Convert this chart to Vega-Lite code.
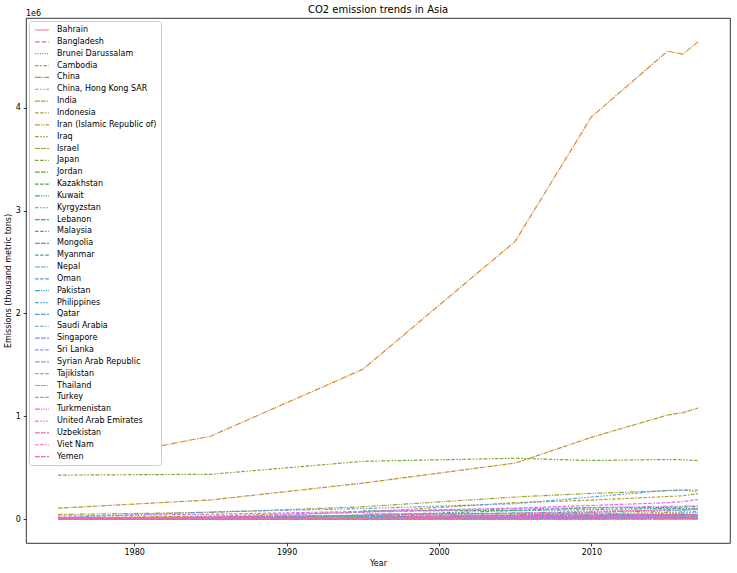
{
"$schema": "https://vega.github.io/schema/vega-lite/v6.json",
"width": 704,
"height": 525,
"padding": {"left": 4, "top": 5, "right": 4, "bottom": 3},
"title": {"text": "CO2 emission trends in Asia", "fontSize": 10, "fontWeight": "normal", "font": "DejaVu Sans", "color": "black", "offset": -5.2},
"datasets": {
"emis": [
{"Country":"Bahrain","Year":1975,"Emissions":2500},{"Country":"Bahrain","Year":1985,"Emissions":4000},{"Country":"Bahrain","Year":1995,"Emissions":5500},{"Country":"Bahrain","Year":2005,"Emissions":9500},{"Country":"Bahrain","Year":2010,"Emissions":12000},{"Country":"Bahrain","Year":2015,"Emissions":15000},{"Country":"Bahrain","Year":2016,"Emissions":15500},{"Country":"Bahrain","Year":2017,"Emissions":16000},
{"Country":"Bangladesh","Year":1975,"Emissions":2000},{"Country":"Bangladesh","Year":1985,"Emissions":3500},{"Country":"Bangladesh","Year":1995,"Emissions":8000},{"Country":"Bangladesh","Year":2005,"Emissions":17500},{"Country":"Bangladesh","Year":2010,"Emissions":27000},{"Country":"Bangladesh","Year":2015,"Emissions":36500},{"Country":"Bangladesh","Year":2016,"Emissions":36000},{"Country":"Bangladesh","Year":2017,"Emissions":36500},
{"Country":"Brunei Darussalam","Year":1975,"Emissions":1750},{"Country":"Brunei Darussalam","Year":1985,"Emissions":2000},{"Country":"Brunei Darussalam","Year":1995,"Emissions":2500},{"Country":"Brunei Darussalam","Year":2005,"Emissions":2750},{"Country":"Brunei Darussalam","Year":2010,"Emissions":3500},{"Country":"Brunei Darussalam","Year":2015,"Emissions":3000},{"Country":"Brunei Darussalam","Year":2016,"Emissions":3200},{"Country":"Brunei Darussalam","Year":2017,"Emissions":3300},
{"Country":"Cambodia","Year":1995,"Emissions":750},{"Country":"Cambodia","Year":2005,"Emissions":1500},{"Country":"Cambodia","Year":2010,"Emissions":2250},{"Country":"Cambodia","Year":2015,"Emissions":3750},{"Country":"Cambodia","Year":2016,"Emissions":4150},{"Country":"Cambodia","Year":2017,"Emissions":4750},
{"Country":"China","Year":1975,"Emissions":520000},{"Country":"China","Year":1985,"Emissions":806000},{"Country":"China","Year":1995,"Emissions":1456000},{"Country":"China","Year":2005,"Emissions":2700000},{"Country":"China","Year":2010,"Emissions":3910000},{"Country":"China","Year":2015,"Emissions":4550000},{"Country":"China","Year":2016,"Emissions":4520000},{"Country":"China","Year":2017,"Emissions":4640000},
{"Country":"China, Hong Kong SAR","Year":1975,"Emissions":4500},{"Country":"China, Hong Kong SAR","Year":1985,"Emissions":8500},{"Country":"China, Hong Kong SAR","Year":1995,"Emissions":15500},{"Country":"China, Hong Kong SAR","Year":2005,"Emissions":20000},{"Country":"China, Hong Kong SAR","Year":2010,"Emissions":21000},{"Country":"China, Hong Kong SAR","Year":2015,"Emissions":22000},{"Country":"China, Hong Kong SAR","Year":2016,"Emissions":21500},{"Country":"China, Hong Kong SAR","Year":2017,"Emissions":22000},
{"Country":"India","Year":1975,"Emissions":107000},{"Country":"India","Year":1985,"Emissions":186000},{"Country":"India","Year":1995,"Emissions":350000},{"Country":"India","Year":2005,"Emissions":545000},{"Country":"India","Year":2010,"Emissions":795000},{"Country":"India","Year":2015,"Emissions":1012000},{"Country":"India","Year":2016,"Emissions":1035000},{"Country":"India","Year":2017,"Emissions":1080000},
{"Country":"Indonesia","Year":1975,"Emissions":12500},{"Country":"Indonesia","Year":1985,"Emissions":30000},{"Country":"Indonesia","Year":1995,"Emissions":67500},{"Country":"Indonesia","Year":2005,"Emissions":160000},{"Country":"Indonesia","Year":2010,"Emissions":185000},{"Country":"Indonesia","Year":2015,"Emissions":220000},{"Country":"Indonesia","Year":2016,"Emissions":227000},{"Country":"Indonesia","Year":2017,"Emissions":248000},
{"Country":"Iran (Islamic Republic of)","Year":1975,"Emissions":45000},{"Country":"Iran (Islamic Republic of)","Year":1985,"Emissions":65000},{"Country":"Iran (Islamic Republic of)","Year":1995,"Emissions":120000},{"Country":"Iran (Islamic Republic of)","Year":2005,"Emissions":215000},{"Country":"Iran (Islamic Republic of)","Year":2010,"Emissions":250000},{"Country":"Iran (Islamic Republic of)","Year":2015,"Emissions":276000},{"Country":"Iran (Islamic Republic of)","Year":2016,"Emissions":281000},{"Country":"Iran (Islamic Republic of)","Year":2017,"Emissions":284000},
{"Country":"Iraq","Year":1975,"Emissions":7500},{"Country":"Iraq","Year":1985,"Emissions":22500},{"Country":"Iraq","Year":1995,"Emissions":35000},{"Country":"Iraq","Year":2005,"Emissions":42500},{"Country":"Iraq","Year":2010,"Emissions":52500},{"Country":"Iraq","Year":2015,"Emissions":65000},{"Country":"Iraq","Year":2016,"Emissions":70000},{"Country":"Iraq","Year":2017,"Emissions":73000},
{"Country":"Israel","Year":1975,"Emissions":10000},{"Country":"Israel","Year":1985,"Emissions":12000},{"Country":"Israel","Year":1995,"Emissions":22500},{"Country":"Israel","Year":2005,"Emissions":28500},{"Country":"Israel","Year":2010,"Emissions":34500},{"Country":"Israel","Year":2015,"Emissions":32000},{"Country":"Israel","Year":2016,"Emissions":31500},{"Country":"Israel","Year":2017,"Emissions":31000},
{"Country":"Japan","Year":1975,"Emissions":428000},{"Country":"Japan","Year":1985,"Emissions":436000},{"Country":"Japan","Year":1995,"Emissions":562000},{"Country":"Japan","Year":2005,"Emissions":592000},{"Country":"Japan","Year":2010,"Emissions":570000},{"Country":"Japan","Year":2015,"Emissions":580000},{"Country":"Japan","Year":2016,"Emissions":577000},{"Country":"Japan","Year":2017,"Emissions":570000},
{"Country":"Jordan","Year":1975,"Emissions":1000},{"Country":"Jordan","Year":1985,"Emissions":4000},{"Country":"Jordan","Year":1995,"Emissions":6000},{"Country":"Jordan","Year":2005,"Emissions":9500},{"Country":"Jordan","Year":2010,"Emissions":10000},{"Country":"Jordan","Year":2015,"Emissions":12500},{"Country":"Jordan","Year":2016,"Emissions":12200},{"Country":"Jordan","Year":2017,"Emissions":12000},
{"Country":"Kazakhstan","Year":1995,"Emissions":80000},{"Country":"Kazakhstan","Year":2005,"Emissions":85000},{"Country":"Kazakhstan","Year":2010,"Emissions":110000},{"Country":"Kazakhstan","Year":2015,"Emissions":112000},{"Country":"Kazakhstan","Year":2016,"Emissions":118000},{"Country":"Kazakhstan","Year":2017,"Emissions":124000},
{"Country":"Kuwait","Year":1975,"Emissions":7500},{"Country":"Kuwait","Year":1985,"Emissions":12500},{"Country":"Kuwait","Year":1995,"Emissions":20000},{"Country":"Kuwait","Year":2005,"Emissions":35000},{"Country":"Kuwait","Year":2010,"Emissions":42500},{"Country":"Kuwait","Year":2015,"Emissions":45000},{"Country":"Kuwait","Year":2016,"Emissions":46000},{"Country":"Kuwait","Year":2017,"Emissions":45000},
{"Country":"Kyrgyzstan","Year":1995,"Emissions":2250},{"Country":"Kyrgyzstan","Year":2005,"Emissions":2750},{"Country":"Kyrgyzstan","Year":2010,"Emissions":3250},{"Country":"Kyrgyzstan","Year":2015,"Emissions":4750},{"Country":"Kyrgyzstan","Year":2016,"Emissions":4900},{"Country":"Kyrgyzstan","Year":2017,"Emissions":4500},
{"Country":"Lebanon","Year":1975,"Emissions":2500},{"Country":"Lebanon","Year":1985,"Emissions":3000},{"Country":"Lebanon","Year":1995,"Emissions":6500},{"Country":"Lebanon","Year":2005,"Emissions":8000},{"Country":"Lebanon","Year":2010,"Emissions":9500},{"Country":"Lebanon","Year":2015,"Emissions":12000},{"Country":"Lebanon","Year":2016,"Emissions":12500},{"Country":"Lebanon","Year":2017,"Emissions":13000},
{"Country":"Malaysia","Year":1975,"Emissions":7500},{"Country":"Malaysia","Year":1985,"Emissions":15000},{"Country":"Malaysia","Year":1995,"Emissions":37500},{"Country":"Malaysia","Year":2005,"Emissions":82500},{"Country":"Malaysia","Year":2010,"Emissions":92500},{"Country":"Malaysia","Year":2015,"Emissions":105000},{"Country":"Malaysia","Year":2016,"Emissions":104000},{"Country":"Malaysia","Year":2017,"Emissions":105500},
{"Country":"Mongolia","Year":1985,"Emissions":5500},{"Country":"Mongolia","Year":1995,"Emissions":4500},{"Country":"Mongolia","Year":2005,"Emissions":5500},{"Country":"Mongolia","Year":2010,"Emissions":7000},{"Country":"Mongolia","Year":2015,"Emissions":8500},{"Country":"Mongolia","Year":2016,"Emissions":9000},{"Country":"Mongolia","Year":2017,"Emissions":10000},
{"Country":"Myanmar","Year":1975,"Emissions":2500},{"Country":"Myanmar","Year":1985,"Emissions":2750},{"Country":"Myanmar","Year":1995,"Emissions":3500},{"Country":"Myanmar","Year":2005,"Emissions":5500},{"Country":"Myanmar","Year":2010,"Emissions":4500},{"Country":"Myanmar","Year":2015,"Emissions":11000},{"Country":"Myanmar","Year":2016,"Emissions":12500},{"Country":"Myanmar","Year":2017,"Emissions":12500},
{"Country":"Nepal","Year":1975,"Emissions":200},{"Country":"Nepal","Year":1985,"Emissions":350},{"Country":"Nepal","Year":1995,"Emissions":1000},{"Country":"Nepal","Year":2005,"Emissions":1500},{"Country":"Nepal","Year":2010,"Emissions":2000},{"Country":"Nepal","Year":2015,"Emissions":2500},{"Country":"Nepal","Year":2016,"Emissions":3000},{"Country":"Nepal","Year":2017,"Emissions":3500},
{"Country":"Oman","Year":1975,"Emissions":1000},{"Country":"Oman","Year":1985,"Emissions":4000},{"Country":"Oman","Year":1995,"Emissions":7500},{"Country":"Oman","Year":2005,"Emissions":15000},{"Country":"Oman","Year":2010,"Emissions":25000},{"Country":"Oman","Year":2015,"Emissions":32500},{"Country":"Oman","Year":2016,"Emissions":32000},{"Country":"Oman","Year":2017,"Emissions":31500},
{"Country":"Pakistan","Year":1975,"Emissions":9000},{"Country":"Pakistan","Year":1985,"Emissions":17500},{"Country":"Pakistan","Year":1995,"Emissions":37500},{"Country":"Pakistan","Year":2005,"Emissions":60000},{"Country":"Pakistan","Year":2010,"Emissions":67500},{"Country":"Pakistan","Year":2015,"Emissions":80000},{"Country":"Pakistan","Year":2016,"Emissions":87500},{"Country":"Pakistan","Year":2017,"Emissions":92000},
{"Country":"Philippines","Year":1975,"Emissions":12500},{"Country":"Philippines","Year":1985,"Emissions":11000},{"Country":"Philippines","Year":1995,"Emissions":25000},{"Country":"Philippines","Year":2005,"Emissions":35000},{"Country":"Philippines","Year":2010,"Emissions":38000},{"Country":"Philippines","Year":2015,"Emissions":52500},{"Country":"Philippines","Year":2016,"Emissions":58500},{"Country":"Philippines","Year":2017,"Emissions":63500},
{"Country":"Qatar","Year":1975,"Emissions":2500},{"Country":"Qatar","Year":1985,"Emissions":5000},{"Country":"Qatar","Year":1995,"Emissions":10000},{"Country":"Qatar","Year":2005,"Emissions":20000},{"Country":"Qatar","Year":2010,"Emissions":35000},{"Country":"Qatar","Year":2015,"Emissions":43000},{"Country":"Qatar","Year":2016,"Emissions":44500},{"Country":"Qatar","Year":2017,"Emissions":43500},
{"Country":"Saudi Arabia","Year":1975,"Emissions":15000},{"Country":"Saudi Arabia","Year":1985,"Emissions":70000},{"Country":"Saudi Arabia","Year":1995,"Emissions":102500},{"Country":"Saudi Arabia","Year":2005,"Emissions":150000},{"Country":"Saudi Arabia","Year":2010,"Emissions":215000},{"Country":"Saudi Arabia","Year":2015,"Emissions":280000},{"Country":"Saudi Arabia","Year":2016,"Emissions":283000},{"Country":"Saudi Arabia","Year":2017,"Emissions":266000},
{"Country":"Singapore","Year":1975,"Emissions":5000},{"Country":"Singapore","Year":1985,"Emissions":8500},{"Country":"Singapore","Year":1995,"Emissions":15000},{"Country":"Singapore","Year":2005,"Emissions":17500},{"Country":"Singapore","Year":2010,"Emissions":22500},{"Country":"Singapore","Year":2015,"Emissions":23500},{"Country":"Singapore","Year":2016,"Emissions":23500},{"Country":"Singapore","Year":2017,"Emissions":23500},
{"Country":"Sri Lanka","Year":1975,"Emissions":1500},{"Country":"Sri Lanka","Year":1985,"Emissions":1750},{"Country":"Sri Lanka","Year":1995,"Emissions":2500},{"Country":"Sri Lanka","Year":2005,"Emissions":6000},{"Country":"Sri Lanka","Year":2010,"Emissions":6000},{"Country":"Sri Lanka","Year":2015,"Emissions":9500},{"Country":"Sri Lanka","Year":2016,"Emissions":10500},{"Country":"Sri Lanka","Year":2017,"Emissions":11000},
{"Country":"Syrian Arab Republic","Year":1975,"Emissions":5000},{"Country":"Syrian Arab Republic","Year":1985,"Emissions":10000},{"Country":"Syrian Arab Republic","Year":1995,"Emissions":16000},{"Country":"Syrian Arab Republic","Year":2005,"Emissions":25000},{"Country":"Syrian Arab Republic","Year":2010,"Emissions":27500},{"Country":"Syrian Arab Republic","Year":2015,"Emissions":13500},{"Country":"Syrian Arab Republic","Year":2016,"Emissions":13000},{"Country":"Syrian Arab Republic","Year":2017,"Emissions":13000},
{"Country":"Tajikistan","Year":1995,"Emissions":1250},{"Country":"Tajikistan","Year":2005,"Emissions":1250},{"Country":"Tajikistan","Year":2010,"Emissions":1250},{"Country":"Tajikistan","Year":2015,"Emissions":2500},{"Country":"Tajikistan","Year":2016,"Emissions":2750},{"Country":"Tajikistan","Year":2017,"Emissions":3250},
{"Country":"Thailand","Year":1975,"Emissions":10000},{"Country":"Thailand","Year":1985,"Emissions":17500},{"Country":"Thailand","Year":1995,"Emissions":67500},{"Country":"Thailand","Year":2005,"Emissions":100000},{"Country":"Thailand","Year":2010,"Emissions":112500},{"Country":"Thailand","Year":2015,"Emissions":125000},{"Country":"Thailand","Year":2016,"Emissions":127500},{"Country":"Thailand","Year":2017,"Emissions":127500},
{"Country":"Turkey","Year":1975,"Emissions":30000},{"Country":"Turkey","Year":1985,"Emissions":47500},{"Country":"Turkey","Year":1995,"Emissions":75000},{"Country":"Turkey","Year":2005,"Emissions":107500},{"Country":"Turkey","Year":2010,"Emissions":132500},{"Country":"Turkey","Year":2015,"Emissions":160000},{"Country":"Turkey","Year":2016,"Emissions":170000},{"Country":"Turkey","Year":2017,"Emissions":190000},
{"Country":"Turkmenistan","Year":1995,"Emissions":15000},{"Country":"Turkmenistan","Year":2005,"Emissions":22500},{"Country":"Turkmenistan","Year":2010,"Emissions":27500},{"Country":"Turkmenistan","Year":2015,"Emissions":32500},{"Country":"Turkmenistan","Year":2016,"Emissions":34000},{"Country":"Turkmenistan","Year":2017,"Emissions":35000},
{"Country":"United Arab Emirates","Year":1975,"Emissions":7500},{"Country":"United Arab Emirates","Year":1985,"Emissions":20000},{"Country":"United Arab Emirates","Year":1995,"Emissions":37500},{"Country":"United Arab Emirates","Year":2005,"Emissions":57500},{"Country":"United Arab Emirates","Year":2010,"Emissions":77500},{"Country":"United Arab Emirates","Year":2015,"Emissions":90000},{"Country":"United Arab Emirates","Year":2016,"Emissions":92500},{"Country":"United Arab Emirates","Year":2017,"Emissions":95000},
{"Country":"Uzbekistan","Year":1995,"Emissions":50000},{"Country":"Uzbekistan","Year":2005,"Emissions":55000},{"Country":"Uzbekistan","Year":2010,"Emissions":50000},{"Country":"Uzbekistan","Year":2015,"Emissions":45000},{"Country":"Uzbekistan","Year":2016,"Emissions":42500},{"Country":"Uzbekistan","Year":2017,"Emissions":42500},
{"Country":"Viet Nam","Year":1975,"Emissions":5000},{"Country":"Viet Nam","Year":1985,"Emissions":6000},{"Country":"Viet Nam","Year":1995,"Emissions":14000},{"Country":"Viet Nam","Year":2005,"Emissions":40000},{"Country":"Viet Nam","Year":2010,"Emissions":65000},{"Country":"Viet Nam","Year":2015,"Emissions":92500},{"Country":"Viet Nam","Year":2016,"Emissions":92500},{"Country":"Viet Nam","Year":2017,"Emissions":97500},
{"Country":"Yemen","Year":1975,"Emissions":1500},{"Country":"Yemen","Year":1985,"Emissions":2500},{"Country":"Yemen","Year":1995,"Emissions":5000},{"Country":"Yemen","Year":2005,"Emissions":10000},{"Country":"Yemen","Year":2010,"Emissions":11000},{"Country":"Yemen","Year":2015,"Emissions":5000},{"Country":"Yemen","Year":2016,"Emissions":4500},{"Country":"Yemen","Year":2017,"Emissions":5000}
],
"offset": [{"label": "1e6"}]
},
"layer": [
{
"data": {"name": "emis"},
"mark": {"type": "line", "strokeWidth": 1.2, "clip": true},
"encoding": {
"x": {"field": "Year", "type": "quantitative", "scale": {"domain": [1972.9, 2019.1], "nice": false, "zero": false},
"axis": {"values": [1980, 1990, 2000, 2010], "format": "d", "title": "Year"}},
"y": {"field": "Emissions", "type": "quantitative", "scale": {"domain": [-232000, 4872000], "nice": false, "zero": false},
"axis": {"values": [0, 1000000, 2000000, 3000000, 4000000], "labelExpr": "format(datum.value/1000000, 'd')", "title": "Emissions (thousand metric tons)"}},
"color": {"field": "Country", "type": "nominal", "title": null,
"scale": {"domain": ["Bahrain","Bangladesh","Brunei Darussalam","Cambodia","China","China, Hong Kong SAR","India","Indonesia","Iran (Islamic Republic of)","Iraq","Israel","Japan","Jordan","Kazakhstan","Kuwait","Kyrgyzstan","Lebanon","Malaysia","Mongolia","Myanmar","Nepal","Oman","Pakistan","Philippines","Qatar","Saudi Arabia","Singapore","Sri Lanka","Syrian Arab Republic","Tajikistan","Thailand","Turkey","Turkmenistan","United Arab Emirates","Uzbekistan","Viet Nam","Yemen"],
"range": ["#f77189","#f5766b","#e8804a","#df8634","#d98b32","#ca9232","#be9632","#b19c31","#a79f31","#9aa331","#8aa731","#79ab31","#59ae3c","#36b04f","#32b168","#33b07d","#34af87","#34ae95","#35ada0","#35aca8","#36abb0","#37aaba","#38a9c3","#39a7ce","#4aa3db","#5c9fe8","#709bf4","#8d92f4","#a98af4","#bd81f4","#d177f1","#e06eea","#ef64e0","#f563d3","#f567bf","#f66aab","#f66e9b"]}},
"strokeDash": {"field": "Country", "type": "nominal", "title": null,
"scale": {"domain": ["Bahrain","Bangladesh","Brunei Darussalam","Cambodia","China","China, Hong Kong SAR","India","Indonesia","Iran (Islamic Republic of)","Iraq","Israel","Japan","Jordan","Kazakhstan","Kuwait","Kyrgyzstan","Lebanon","Malaysia","Mongolia","Myanmar","Nepal","Oman","Pakistan","Philippines","Qatar","Saudi Arabia","Singapore","Sri Lanka","Syrian Arab Republic","Tajikistan","Thailand","Turkey","Turkmenistan","United Arab Emirates","Uzbekistan","Viet Nam","Yemen"],
"range": [
[1,0],
[4.8,1.8],
[1.2,1.2],
[3.6,1.5,1.8,1.5],
[6,1.2,1.2,1.2],
[3.6,1.5,1.5,1.5,1.5,1.5],
[4.8,1.2,4.8,1.2,1.2,1.2],
[3.6,1.5,3.6,1.5,1.5,1.5],
[4.8,1.2,1.2,1.2,1.2,1.2],
[3.6,1.5,1.5,1.5,1.5,1.5,1.5,1.5],
[4.8,1.2,4.8,1.2,4.8,1.2,1.2,1.2],
[3.6,1.5,3.6,1.5,1.5,1.5,1.5,1.5],
[4.8,1.2,4.8,1.2,1.2,1.2,1.2,1.2],
[3.6,1.5,3.6,1.5,3.6,1.5,1.5,1.5],
[4.8,1.2,1.2,1.2,1.2,1.2,1.2,1.2],
[3.6,1.5,1.5,1.5,1.5,1.5,1.5,1.5,1.5,1.5],
[4.8,1.2,4.8,1.2,4.8,1.2,4.8,1.2,1.2,1.2],
[3.6,1.5,3.6,1.5,1.5,1.5,1.5,1.5,1.5,1.5],
[4.8,1.2,4.8,1.2,4.8,1.2,1.2,1.2,1.2,1.2],
[3.6,1.5,3.6,1.5,3.6,1.5,1.5,1.5,1.5,1.5],
[4.8,1.2,4.8,1.2,1.2,1.2,1.2,1.2,1.2,1.2],
[3.6,1.5,3.6,1.5,3.6,1.5,3.6,1.5,1.5,1.5],
[4.8,1.2,1.2,1.2,1.2,1.2,1.2,1.2,1.2,1.2],
[3.6,1.5,1.5,1.5,1.5,1.5,1.5,1.5,1.5,1.5,1.5,1.5],
[4.8,1.2,4.8,1.2,4.8,1.2,4.8,1.2,4.8,1.2,1.2,1.2],
[3.6,1.5,3.6,1.5,1.5,1.5,1.5,1.5,1.5,1.5,1.5,1.5],
[4.8,1.2,4.8,1.2,4.8,1.2,4.8,1.2,1.2,1.2,1.2,1.2],
[3.6,1.5,3.6,1.5,3.6,1.5,1.5,1.5,1.5,1.5,1.5,1.5],
[4.8,1.2,4.8,1.2,4.8,1.2,1.2,1.2,1.2,1.2,1.2,1.2],
[3.6,1.5,3.6,1.5,3.6,1.5,3.6,1.5,1.5,1.5,1.5,1.5],
[4.8,1.2,4.8,1.2,1.2,1.2,1.2,1.2,1.2,1.2,1.2,1.2],
[3.6,1.5,3.6,1.5,3.6,1.5,3.6,1.5,3.6,1.5,1.5,1.5],
[4.8,1.2,1.2,1.2,1.2,1.2,1.2,1.2,1.2,1.2,1.2,1.2],
[3.6,1.5,1.5,1.5,1.5,1.5,1.5,1.5,1.5,1.5,1.5,1.5,1.5,1.5],
[4.8,1.2,4.8,1.2,4.8,1.2,4.8,1.2,4.8,1.2,4.8,1.2,1.2,1.2],
[3.6,1.5,3.6,1.5,1.5,1.5,1.5,1.5,1.5,1.5,1.5,1.5,1.5,1.5],
[4.8,1.2,4.8,1.2,4.8,1.2,4.8,1.2,4.8,1.2,1.2,1.2,1.2,1.2]
]}}
}
},
{
"data": {"name": "offset"},
"mark": {"type": "text", "align": "left", "baseline": "alphabetic", "dy": -2, "fontSize": 8, "font": "DejaVu Sans", "color": "black"},
"encoding": {
"x": {"datum": 1972.9},
"y": {"datum": 4872000},
"text": {"field": "label"}
}
}
],
"config": {
"font": "DejaVu Sans",
"view": {"stroke": "black", "strokeWidth": 0.8},
"axis": {"domain": false, "grid": false, "tickColor": "black", "tickSize": 2.8, "tickWidth": 0.8, "labelColor": "black", "labelFontSize": 8, "labelFont": "DejaVu Sans", "labelPadding": 2.8, "titleColor": "black", "titleFontSize": 8, "titleFontWeight": "normal", "titleFont": "DejaVu Sans", "titlePadding": 3.2},
"legend": {"orient": "top-left", "offset": 3, "padding": 4, "fillColor": "white", "strokeColor": "#cccccc", "cornerRadius": 3, "labelFontSize": 8, "labelFont": "DejaVu Sans", "labelColor": "black", "symbolType": "M-1.75,0L1.75,0", "symbolSize": 64, "symbolStrokeWidth": 1.2, "symbolOffset": 4, "rowPadding": 2.85, "labelOffset": 10, "labelLimit": 300, "symbolLimit": 0}
}
}
